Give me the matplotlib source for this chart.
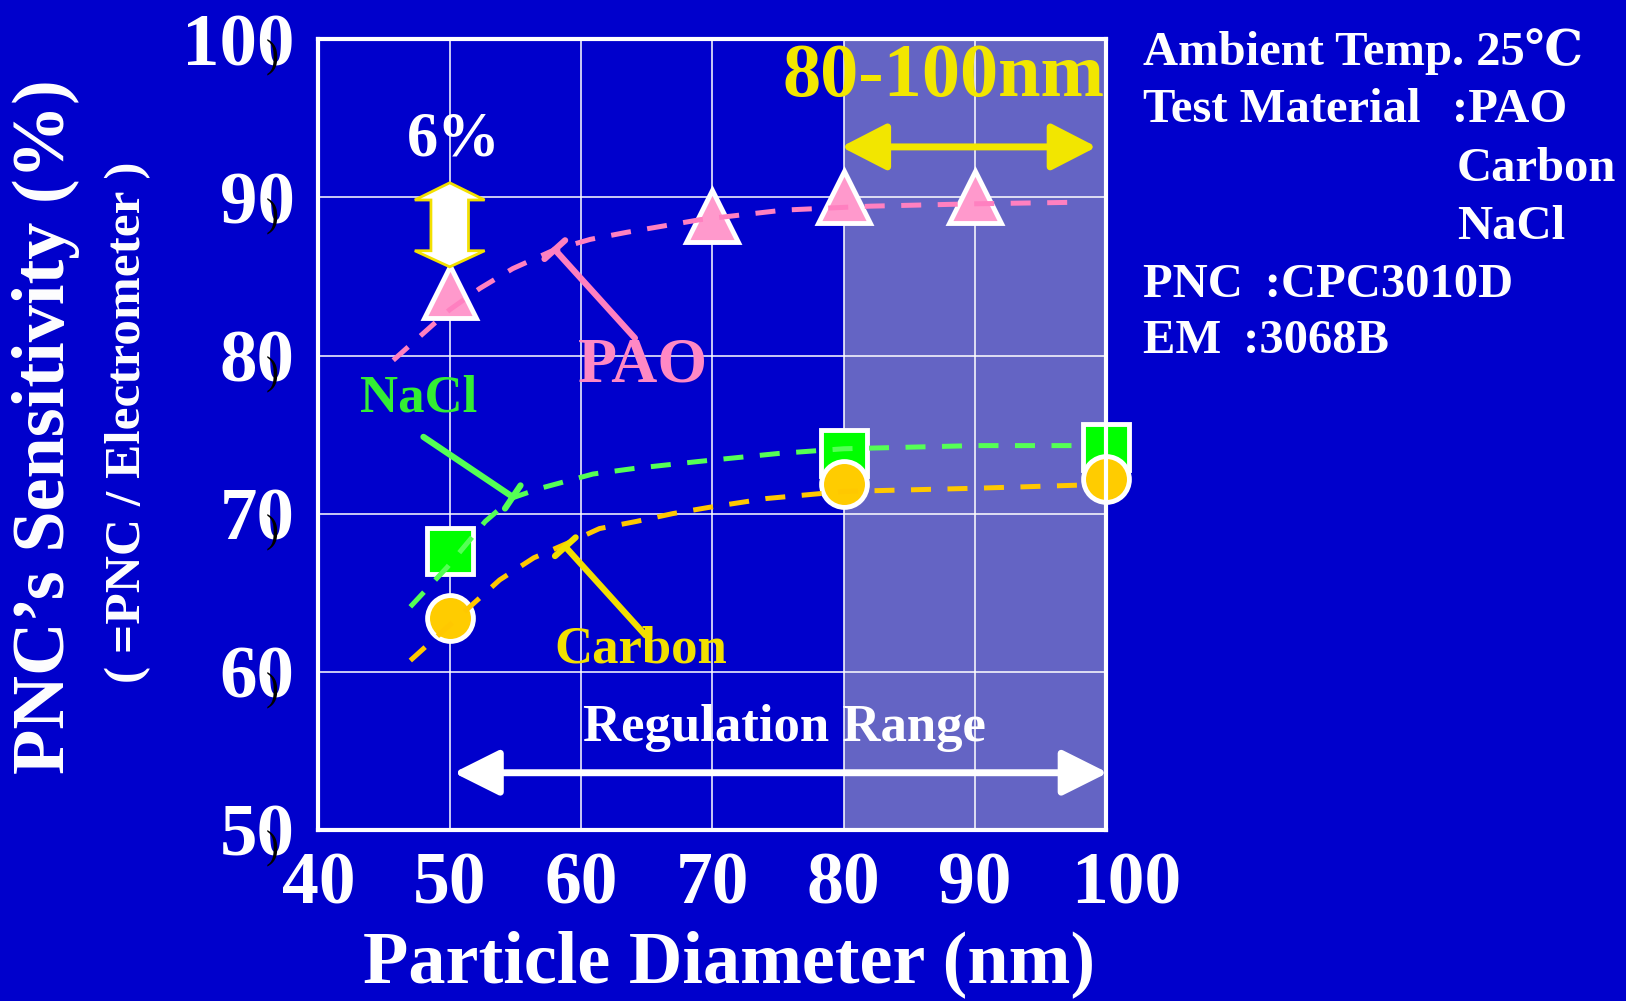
import matplotlib
matplotlib.use("Agg")
import matplotlib.pyplot as plt
import matplotlib.patches as mpatches
import matplotlib.transforms as mtransforms

# ---------------- data ----------------
x_ticks = [40, 50, 60, 70, 80, 90, 100]
y_ticks = [50, 60, 70, 80, 90, 100]

pao_x = [50, 70, 80, 90]
pao_y = [84.0, 88.8, 90.0, 90.0]
nacl_x = [50, 80, 100]
nacl_y = [67.6, 73.8, 74.2]
carbon_x = [50, 80, 100]
carbon_y = [63.4, 71.9, 72.2]

# dashed trend curves
pao_fit_x = [45.7, 50.0, 52.3, 54.8, 58.0, 60.7, 63.5, 66.3, 69.1, 75.4, 82.0, 90.0, 98.0]
pao_fit_y = [79.7, 82.9, 84.25, 85.5, 86.7, 87.35, 87.8, 88.2, 88.6, 89.2, 89.45, 89.6, 89.7]
nacl_fit_x = [47.0, 49.8, 52.7, 54.8, 56.9, 60.9, 64.0, 69.0, 75.0, 80.0, 90.0, 98.0]
nacl_fit_y = [64.1, 66.6, 69.5, 71.0, 71.6, 72.5, 72.85, 73.3, 73.8, 74.1, 74.3, 74.3]
carbon_fit_x = [47.0, 51.8, 53.8, 56.4, 58.9, 61.4, 64.2, 67.0, 69.8, 74.1, 80.0, 90.0, 98.0]
carbon_fit_y = [60.7, 64.3, 65.8, 67.2, 68.1, 69.05, 69.5, 70.0, 70.4, 70.95, 71.4, 71.6, 71.8]

info_lines = ["Ambient Temp. 25\u2103", "Test Material", "PNC \u2009:CPC3010D", "EM \u2009:3068B"]
materials = [":PAO", "Carbon", "NaCl"]

# ---------------- style ----------------
BG = "#0000CC"
SHADE = "#6464C4"
SERIF = ["Liberation Serif", "DejaVu Serif"]
plt.rcParams["font.family"] = SERIF
plt.rcParams["font.weight"] = "bold"

fig = plt.figure(figsize=(16.26, 10.01), dpi=100, facecolor=BG)
ax = fig.add_axes([0.1958, 0.1712, 0.4847, 0.7894])
ax.set_facecolor(BG)
ax.set_xlim(40, 100)
ax.set_ylim(50, 100)

for s in ax.spines.values():
    s.set_color("white")
    s.set_linewidth(3)
    s.set_zorder(6)

ax.set_xticks(x_ticks)
ax.set_xticklabels([str(v) for v in x_ticks], fontsize=53, fontweight="bold", color="white")
ax.set_yticks(y_ticks)
ax.set_yticklabels([str(v) for v in y_ticks], fontsize=54, fontweight="bold", color="white")
ax.tick_params(axis="x", length=0, pad=16)
ax.tick_params(axis="y", length=0, pad=17)
ax.set_axisbelow(True)
ax.grid(True, color="white", linewidth=1.1)
# the last x label sits a little right of its gridline in the reference
lastlab = ax.get_xticklabels()[-1]
lastlab.set_transform(lastlab.get_transform() + mtransforms.ScaledTranslation(14 / 72, 0, fig.dpi_scale_trans))

ax.axvspan(80, 100, color=SHADE, zorder=0.2, lw=0)

# markers
ax.plot(pao_x, pao_y, linestyle="none", marker="^", markersize=37, markerfacecolor="#FF99CC",
        markeredgecolor="white", markeredgewidth=3.5, zorder=3, clip_on=False)
ax.plot(nacl_x, nacl_y, linestyle="none", marker="s", markersize=33, markerfacecolor="#00FF00",
        markeredgecolor="white", markeredgewidth=3.5, zorder=3, clip_on=False)
ax.plot(carbon_x, carbon_y, linestyle="none", marker="o", markersize=33, markerfacecolor="#FFCC00",
        markeredgecolor="white", markeredgewidth=3.5, zorder=3.5, clip_on=False)

# dashed curves
dash = (4, 3.3)
ax.plot(pao_fit_x, pao_fit_y, color="#FF80C0", lw=3.6, dashes=dash, zorder=4)
ax.plot(nacl_fit_x, nacl_fit_y, color="#55FF55", lw=3.6, dashes=dash, zorder=4)
ax.plot(carbon_fit_x, carbon_fit_y, color="#FFC800", lw=3.6, dashes=dash, zorder=4)

# labels with leader lines
def leader(xy, xytext, color):
    ax.annotate("", xy=xy, xytext=xytext,
                arrowprops=dict(arrowstyle="-[, widthB=1.0, lengthB=0", color=color, lw=4.5,
                                shrinkA=0, shrinkB=0, mutation_scale=10), zorder=5)

leader((58.0, 86.7), (64.1, 81.1), "#FF80C0")
leader((54.8, 71.05), (48.0, 74.85), "#55FF55")
leader((58.8, 67.9), (64.9, 62.3), "#F2E000")

ax.text(64.7, 79.3, "PAO", color="#FF88C4", fontsize=46, fontweight="bold", ha="center", va="center", zorder=6)
ax.text(47.6, 77.3, "NaCl", color="#33EE33", fontsize=38, fontweight="bold", ha="center", va="center", zorder=6)
ax.text(64.55, 61.4, "Carbon", color="#F2E000", fontsize=38, fontweight="bold", ha="center", va="center", zorder=6)

# 6% double block arrow
cx = 50
poly = [(cx, 90.93), (cx + 2.66, 89.84), (cx + 1.43, 89.84), (cx + 1.43, 86.63), (cx + 2.66, 86.63),
        (cx, 85.61), (cx - 2.66, 86.63), (cx - 1.43, 86.63), (cx - 1.43, 89.84), (cx - 2.66, 89.84)]
ax.add_patch(mpatches.Polygon(poly, closed=True, facecolor="white", edgecolor="#F2E000", lw=2, zorder=5))
ax.text(50.3, 93.6, "6%", color="white", fontsize=45, fontweight="bold", ha="center", va="center", zorder=6)

# 80-100nm range
ax.text(87.6, 97.6, "80-100nm", color="#F2E600", fontsize=55, fontweight="bold", ha="center", va="center",
        zorder=6, clip_on=False)
ax.annotate("", xy=(99.25, 93.2), xytext=(79.8, 93.2),
            arrowprops=dict(arrowstyle="<|-|>, head_length=1.4, head_width=0.72", color="#F2E600",
                            lw=5, shrinkA=0, shrinkB=0, mutation_scale=20), zorder=6)

# Regulation range
ax.text(75.45, 56.4, "Regulation Range", color="white", fontsize=38, fontweight="bold",
        ha="center", va="center", zorder=6)
ax.annotate("", xy=(100.1, 53.6), xytext=(50.3, 53.6),
            arrowprops=dict(arrowstyle="<|-|>, head_length=1.4, head_width=0.7", color="white",
                            lw=5, shrinkA=0, shrinkB=0, mutation_scale=20), zorder=6,
            annotation_clip=False)

# small black marks beside y tick labels
blend = mtransforms.blended_transform_factory(fig.transFigure, ax.transData)
for v in y_ticks:
    ax.text(0.1673, v - 1.2, ")", transform=blend, color="black", fontsize=28, fontweight="normal",
            ha="center", va="center", clip_on=False, zorder=7)

# axis titles
fig.text(0.4484, 0.0365, "Particle Diameter (nm)", color="white", fontsize=53.5, fontweight="bold",
         ha="center", va="center")
fig.text(0.0285, 0.574, "PNC\u2019s Sensitivity (%)", color="white", fontsize=53.5, fontweight="bold",
         ha="center", va="center", rotation=90)
fig.text(0.0787, 0.578, "( =PNC / Electrometer )", color="white", fontsize=37, fontweight="bold",
         ha="center", va="center", rotation=90)

# info block
info_y = [0.9483, 0.8903, 0.7153, 0.6593]
for t, yy in zip(info_lines, info_y):
    fig.text(0.7028, yy, t, color="white", fontsize=35, fontweight="bold", ha="left", va="center")
mat_y = [0.8903, 0.8313, 0.7732]
mat_x = [0.893, 0.896, 0.896]
for t, xx, yy in zip(materials, mat_x, mat_y):
    fig.text(xx, yy, t, color="white", fontsize=35, fontweight="bold", ha="left", va="center")

fig.savefig("out.png", dpi=100, facecolor=BG)
